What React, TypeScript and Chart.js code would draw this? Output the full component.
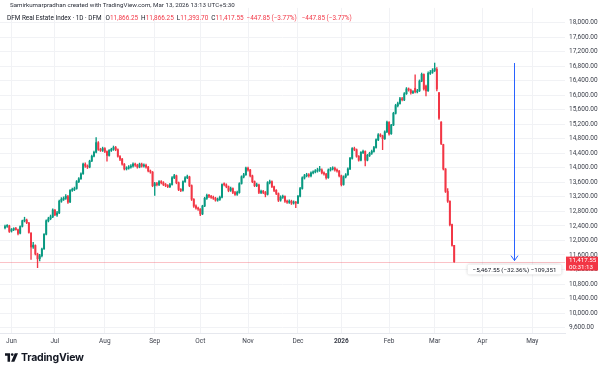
import React, { useEffect, useRef } from 'react';
import { Chart, registerables } from 'chart.js';

Chart.register(...registerables);

const opens = [12350,12390,12400,12260,12300,12330,12290,12200,12390,12540,
 12560,12480,12200,11820,11860,11620,11500,11580,11770,12170,
 12540,12600,12650,12830,12700,12760,13080,13130,13160,13210,
 13060,13380,13400,13430,13620,13700,13840,14100,14050,14020,
 14190,14320,14430,14690,14500,14480,14530,14450,14340,14480,
 14510,14560,14500,14310,14240,14100,13970,13990,14020,14050,
 14100,14070,14020,14100,14050,14070,14020,13910,13880,13510,
 13560,13540,13620,13590,13540,13510,13480,13540,13730,13780,
 13590,13400,13380,13620,13730,13750,13510,13130,12950,12890,
 12860,12730,12950,13160,13240,13210,13190,13160,13110,13130,
 13190,13540,13530,13480,13380,13430,13320,13270,13320,13570,
 13750,13810,13990,13940,13780,13620,13510,13530,13320,13350,
 13320,13270,13590,13620,13480,13380,13290,13110,13190,13210,
 13080,13050,13080,13030,13050,13030,13220,13430,13720,13780,
 13810,13780,13860,13890,13910,13940,13940,13860,13830,13730,
 13940,13970,13990,13940,13910,13780,13540,13750,13810,13970,
 14260,14530,14500,14320,14210,14420,14450,14210,14340,14400,
 14450,14560,14770,14910,14880,14800,14990,15250,14940,15180,
 15500,15710,15770,15900,15870,16040,16170,16140,16070,16190,
 16090,16120,16390,16570,16250,16120,16600,16630,16680,16710,
 16065,15258,14640,13968,13350,13081,12436,11866.25];

const highs = [12420,12440,12420,12330,12350,12360,12310,12400,12560,12640,
 12590,12500,12220,11950,11880,11650,11620,11790,12190,12570,
 12640,12700,12870,12860,12800,13110,13180,13200,13260,13240,
 13400,13440,13470,13650,13730,13860,14130,14140,14080,14210,
 14350,14460,14830,14720,14540,14570,14560,14470,14500,14540,
 14600,14590,14520,14340,14260,14120,14030,14060,14090,14140,
 14130,14100,14130,14130,14110,14100,14040,13940,13900,13600,
 13600,13650,13650,13620,13570,13540,13570,13760,13820,13800,
 13610,13430,13640,13760,13800,13770,13530,13150,12980,12920,
 12880,12970,13190,13280,13270,13240,13220,13190,13170,13220,
 13560,13590,13560,13500,13470,13450,13350,13360,13590,13780,
 13850,14020,14020,13960,13800,13640,13580,13550,13390,13380,
 13350,13620,13660,13640,13500,13400,13310,13230,13250,13230,
 13110,13120,13110,13090,13080,13240,13460,13750,13820,13850,
 13840,13890,13920,13950,13990,14040,13970,13890,13850,13970,
 14010,14030,14020,13970,13930,13800,13780,13840,14000,14290,
 14560,14570,14520,14340,14450,14490,14470,14370,14430,14490,
 14590,14800,14940,14940,14900,15020,15290,15270,15200,15530,
 15750,15810,15940,15940,16070,16210,16200,16170,16130,16560,
 16160,16420,16610,16590,16280,16640,16680,16730,16885.10,16760,
 16080,15270,14650,13980,13430,13090,12450,11866.25];

const lows = [12320,12360,12220,12230,12270,12280,12150,12180,12370,12510,
 12460,12200,11480,11780,11600,11250,11440,11550,11750,12150,
 12510,12570,12630,12680,12660,12740,13050,13100,13130,13020,
 13040,13350,13370,13410,13590,13680,13820,14010,13980,14000,
 14170,14300,14410,14480,14450,14450,14420,14180,14320,14450,
 14480,14470,14290,14200,14070,13940,13940,13960,13990,14020,
 14040,13990,14000,14020,14020,13990,13890,13850,13480,13240,
 13500,13510,13560,13510,13480,13450,13450,13520,13700,13560,
 13370,13340,13360,13600,13700,13480,13100,12910,12860,12830,
 12680,12710,12930,13130,13180,13160,13130,13080,13080,13100,
 13170,13500,13450,13340,13350,13290,13240,13240,13300,13550,
 13720,13790,13910,13750,13590,13480,13480,13290,13290,13290,
 13200,13250,13560,13450,13340,13260,13070,13080,13160,13050,
 13020,13020,12990,13000,12900,13010,13200,13410,13690,13750,
 13740,13750,13830,13860,13880,13900,13830,13800,13690,13710,
 13910,13940,13910,13880,13750,13500,13520,13720,13790,13950,
 14240,14470,14290,14180,14190,14390,14050,14190,14310,14370,
 14430,14540,14750,14850,14500,14780,14970,14900,14920,15160,
 15480,15680,15750,15840,15850,16020,16110,16030,16040,16060,
 16060,16100,16370,16140,15980,16100,16570,16600,16650,16120,
 15330,14640,13940,13320,13050,12400,11840,11393.70];

const closes = [12382,12409,12248,12301,12328,12301,12194,12382,12543,12570,
 12490,12221,11818,11871,11630,11495,11576,11764,12167,12543,
 12597,12651,12839,12705,12758,13081,13135,13162,13215,13054,
 13377,13404,13430,13619,13699,13834,14102,14049,14022,14183,
 14317,14425,14694,14506,14479,14532,14452,14344,14479,14506,
 14559,14506,14317,14237,14102,13968,13995,14022,14049,14102,
 14076,14022,14102,14049,14076,14022,13914,13887,13511,13565,
 13538,13619,13592,13538,13511,13484,13538,13726,13780,13592,
 13404,13377,13619,13726,13753,13511,13135,12946,12893,12866,
 12731,12946,13162,13242,13215,13188,13162,13108,13135,13188,
 13538,13538,13484,13377,13430,13323,13269,13323,13565,13753,
 13807,13995,13941,13780,13619,13511,13538,13323,13350,13323,
 13269,13592,13619,13484,13377,13296,13108,13188,13215,13081,
 13054,13081,13027,13054,13027,13215,13430,13726,13780,13807,
 13780,13860,13887,13914,13941,13941,13860,13834,13726,13941,
 13968,13995,13941,13914,13780,13538,13753,13807,13968,14264,
 14532,14506,14317,14210,14425,14452,14210,14344,14398,14452,
 14559,14774,14909,14882,14801,14989,15258,14936,15178,15500,
 15715,15769,15903,15876,16038,16172,16145,16065,16092,16092,
 16118,16387,16575,16172,16118,16602,16629,16683,16737,16172,
 15366,14667,13968,13350,13081,12436,11865.40,11417.55];

// month tick positions (bar index) and labels
const monthTickIdx = [3, 23, 46, 69, 90, 112, 135, 155, 177, 198, 220, 243];
const monthLabels = ['Jun', 'Jul', 'Aug', 'Sep', 'Oct', 'Nov', 'Dec', '2026', 'Feb', 'Mar', 'Apr', 'May'];

const priceTicks = [9600, 10000, 10400, 10800, 11200, 11600, 12000, 12400, 12800, 13200, 13600,
  14000, 14400, 14800, 15200, 15600, 16000, 16400, 16800, 17200, 17600, 18000];

const lastPrice = 11417.55;
const peakHigh = 16885.10;
const measureIdx = 234.6;
const measureText = '\u22125,467.55 (\u221232.36%) \u2212109,351';
const priceTagLines = ['11,417.55', '00:31:13'];

const UP = '#089981';
const DOWN = '#F23645';
const FONT = 'Roboto, "Noto Sans", sans-serif';

const fmt = (v: number) => v.toLocaleString('en-US', { minimumFractionDigits: 2, maximumFractionDigits: 2 });

const overlayPlugin = {
  id: 'overlay',
  beforeDatasetsDraw(chart: any) {
    const { ctx, chartArea, scales } = chart;
    const py = Math.round(scales.y.getPixelForValue(lastPrice)) + 0.5;
    ctx.save();
    ctx.strokeStyle = 'rgba(242,54,69,0.3)';
    ctx.lineWidth = 1;
    ctx.beginPath();
    ctx.moveTo(chartArea.left, py);
    ctx.lineTo(chartArea.right, py);
    ctx.stroke();
    ctx.restore();
  },
  afterDraw(chart: any) {
    const { ctx, chartArea, scales } = chart;
    const x = Math.round(scales.x.getPixelForValue(measureIdx)) + 0.5;
    const y1 = scales.y.getPixelForValue(peakHigh);
    const y2 = scales.y.getPixelForValue(lastPrice);
    ctx.save();
    ctx.strokeStyle = '#2962FF';
    ctx.lineWidth = 1;
    ctx.beginPath();
    ctx.moveTo(x, y1);
    ctx.lineTo(x, y2 - 1);
    ctx.moveTo(x - 3.5, y2 - 6);
    ctx.lineTo(x, y2 - 1);
    ctx.lineTo(x + 3.5, y2 - 6);
    ctx.stroke();

    // measure label
    ctx.font = `6.2px ${FONT}`;
    const tw = ctx.measureText(measureText).width;
    const bw = tw + 10;
    const bh = 10;
    const bx = x - bw / 2;
    const by = y2 + 3;
    ctx.shadowColor = 'rgba(0,0,0,0.22)';
    ctx.shadowBlur = 3;
    ctx.fillStyle = '#ffffff';
    ctx.beginPath();
    ctx.roundRect(bx, by, bw, bh, 2);
    ctx.fill();
    ctx.shadowColor = 'transparent';
    ctx.shadowBlur = 0;
    ctx.fillStyle = '#131722';
    ctx.textAlign = 'center';
    ctx.textBaseline = 'middle';
    ctx.fillText(measureText, x, by + bh / 2 + 0.5);

    // price tag on axis
    const tx = chartArea.right + 1;
    const py = scales.y.getPixelForValue(lastPrice);
    ctx.fillStyle = DOWN;
    ctx.fillRect(tx, py - 5, 32, 14);
    ctx.fillStyle = '#ffffff';
    ctx.textAlign = 'left';
    ctx.font = `6.2px ${FONT}`;
    ctx.fillText(priceTagLines[0], tx + 3, py - 1);
    ctx.fillText(priceTagLines[1], tx + 3, py + 5.5);
    ctx.restore();
  },
};

function TVLogo() {
  return (
    <svg width="13" height="9" viewBox="0 0 36 24" style={{ display: 'block' }}>
      <path d="M0 0h14v24H7V7H0z" fill="#131722" />
      <circle cx="20" cy="4" r="3.6" fill="#131722" />
      <path d="M27 0h9l-10 24h-9z" fill="#131722" />
    </svg>
  );
}

export default function App() {
  const canvasRef = useRef<HTMLCanvasElement | null>(null);

  useEffect(() => {
    document.body.style.margin = '0';
    const canvas = canvasRef.current;
    if (!canvas) return;
    const idx = closes.map((_, i) => i);
    const colors = idx.map((i) => (closes[i] >= opens[i] ? UP : DOWN));
    const bodies = idx.map((i) => ({ x: i, y: [opens[i], closes[i]] }));
    const wicks = idx.map((i) => ({ x: i, y: [lows[i], highs[i]] }));

    const chart = new Chart(canvas, {
      type: 'bar',
      data: {
        datasets: [
          {
            data: bodies as any,
            backgroundColor: colors,
            borderWidth: 0,
            barThickness: 1.3,
            minBarLength: 1,
            grouped: false,
            order: 0,
          } as any,
          {
            data: wicks as any,
            backgroundColor: colors,
            borderWidth: 0,
            barThickness: 0.7,
            grouped: false,
            order: 1,
          } as any,
        ],
      },
      options: {
        animation: false,
        responsive: false,
        events: [],
        layout: { padding: { left: 0, right: 0, top: 0, bottom: 24 } },
        plugins: { legend: { display: false }, tooltip: { enabled: false } },
        scales: {
          x: {
            type: 'linear',
            min: -2.3,
            max: 258.06,
            offset: false,
            afterBuildTicks: (s: any) => {
              s.ticks = monthTickIdx.map((v) => ({ value: v }));
            },
            afterFit: (s: any) => {
              s.height = 14;
            },
            ticks: {
              autoSkip: false,
              maxRotation: 0,
              padding: 4,
              color: '#3b3f4a',
              font: (c: any) => ({ family: FONT, size: 6.5, weight: monthLabels[c.index] === '2026' ? 'bold' : 'normal' }),
              callback: (_v: any, i: number) => monthLabels[i],
            },
            grid: { color: '#f1f2f5', drawTicks: false, offset: false },
            border: { display: true, color: '#e6e8ee' },
          },
          y: {
            type: 'linear',
            position: 'right',
            min: 9452,
            max: 18403,
            afterBuildTicks: (s: any) => {
              s.ticks = priceTicks.map((v) => ({ value: v }));
            },
            afterFit: (s: any) => {
              s.width = 35;
            },
            ticks: {
              padding: 4,
              color: '#3b3f4a',
              font: { family: FONT, size: 6.5 },
              callback: (v: any) => fmt(Number(v)),
            },
            grid: { color: '#f1f2f5', drawTicks: false },
            border: { display: false },
          },
        },
      } as any,
      plugins: [overlayPlugin],
    });
    return () => chart.destroy();
  }, []);

  const red = { color: DOWN };
  return (
    <div style={{ position: 'relative', width: 600, height: 371, background: '#ffffff', overflow: 'hidden', fontFamily: FONT }}>
      <canvas ref={canvasRef} width={600} height={371} style={{ position: 'absolute', left: 0, top: 0 }} />
      <div style={{ position: 'absolute', left: 10, top: 1, fontSize: 6.2, lineHeight: '8px', color: '#2a2e39', whiteSpace: 'nowrap' }}>
        Samirkumarpradhan created with TradingView.com, Mar 13, 2026 13:13 UTC+5:30
      </div>
      <div style={{ position: 'absolute', left: 7, top: 14, fontSize: 6.4, lineHeight: '8px', color: '#131722', whiteSpace: 'nowrap' }}>
        <span>DFM Real Estate Index · 1D · DFM</span>
        <span style={{ marginLeft: 4 }}>O</span><span style={red}>11,866.25</span>
        <span style={{ marginLeft: 3 }}>H</span><span style={red}>11,866.25</span>
        <span style={{ marginLeft: 3 }}>L</span><span style={red}>11,393.70</span>
        <span style={{ marginLeft: 3 }}>C</span><span style={red}>11,417.55</span>
        <span style={{ ...red, marginLeft: 3 }}>{'\u2212447.85 (\u22123.77%)'}</span>
        <span style={{ ...red, marginLeft: 5 }}>{'\u2212447.85 (\u22123.77%)'}</span>
      </div>
      <div style={{ position: 'absolute', left: 5, top: 351, display: 'flex', alignItems: 'center', gap: 3 }}>
        <TVLogo />
        <span style={{ fontFamily: 'Inter, Roboto, sans-serif', fontWeight: 700, fontSize: 10.5, color: '#131722', letterSpacing: -0.2 }}>TradingView</span>
      </div>
    </div>
  );
}
